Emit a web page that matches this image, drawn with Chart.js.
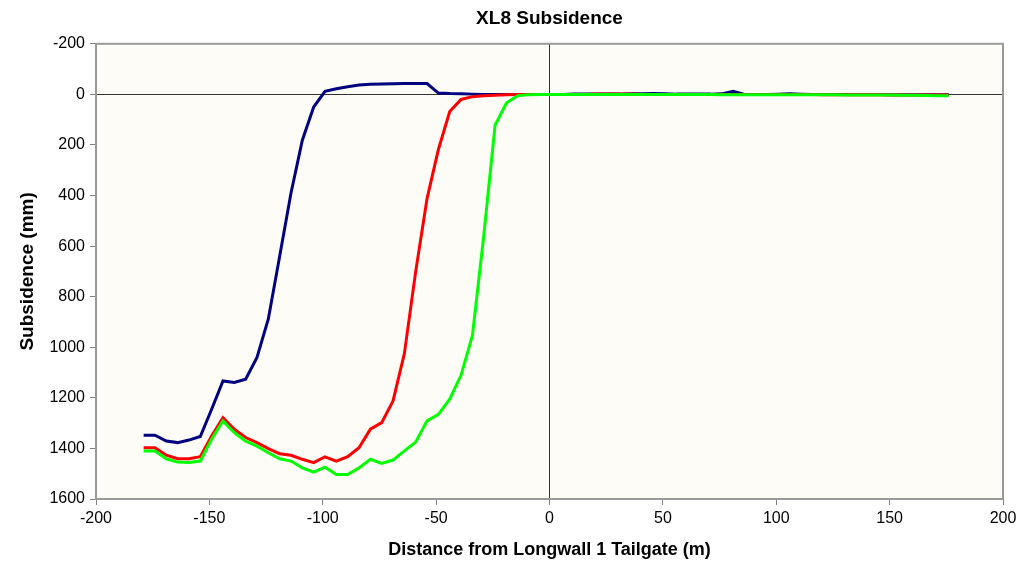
<!DOCTYPE html>
<html lang="en">
<head>
    <meta charset="UTF-8">
    <title>XL8 Subsidence</title>
    <script src="https://cdn.jsdelivr.net/npm/chart.js"></script>
    <style>
        body {
            margin: 0;
            padding: 0;
            background-color: #fff;
        }

        .chart-box {
            width: 1021px;
            height: 561px;
        }
    </style>
</head>
<body>
    <div class="chart-box">
        <canvas id="subsidenceChart" width="1021" height="561"></canvas>
    </div>

    <script>
        // Distance from Longwall 1 Tailgate (m)
        const distances = [-179, -174, -169, -164, -159, -154, -149, -144, -139, -134,
            -129, -124, -119, -114, -109, -104, -99, -94, -89, -84,
            -79, -74, -69, -64, -59, -54, -49, -44, -39, -34,
            -29, -24, -19, -14, -9, -4, 1, 6, 11, 16,
            21, 26, 31, 36, 41, 46, 51, 56, 61, 66,
            71, 76, 81, 86, 91, 96, 101, 106, 111, 116,
            121, 126, 131, 136, 141, 146, 151, 156, 161, 166,
            171, 176];

        // Subsidence (mm), three survey lines
        const navySeries = [1348, 1348, 1371, 1377, 1367, 1353, 1245, 1133, 1139, 1126,
            1040, 888, 640, 390, 181, 50, -12, -22, -30, -37,
            -40, -41, -42, -43, -43, -43, -5, -3, -2, -1,
            0, 0, 0, 0, 0, 0, 0, 0, -1, -1,
            -1, -1, -1, -2, -2, -3, -2, -1, -1, -1,
            -1, -2, -12, 0, 0, 0, -1, -2, -1, 0,
            0, 0, 0, 0, 0, 0, 1, 1, 1, 1,
            1, 1];

        const redSeries = [1397, 1397, 1427, 1441, 1441, 1433, 1351, 1278, 1324, 1357,
            1377, 1401, 1421, 1427, 1443, 1456, 1433, 1450, 1433, 1397,
            1324, 1298, 1212, 1025, 700, 412, 218, 68, 20, 9,
            5, 3, 1, 0, 0, 0, 0, 0, 0, 0,
            -1, -1, -1, -1, 0, 0, 0, 0, 0, 0,
            0, 0, 0, 0, 0, 0, 0, 0, 0, 0,
            1, 1, 1, 1, 1, 1, 2, 2, 2, 2,
            2, 2];

        const greenSeries = [1410, 1410, 1441, 1454, 1456, 1450, 1364, 1291, 1338, 1371,
            1391, 1417, 1441, 1450, 1477, 1494, 1474, 1503, 1503, 1477,
            1443, 1459, 1446, 1410, 1375, 1291, 1265, 1205, 1110, 954,
            560, 122, 34, 5, 1, 0, 0, 0, 0, 0,
            0, 0, 0, 0, 0, 0, 0, 0, 0, 0,
            0, 1, 1, 1, 1, 1, 1, 1, 1, 1,
            1, 1, 2, 2, 2, 2, 2, 3, 3, 4,
            5, 5];

        const xTicks = [-200, -150, -100, -50, 0, 50, 100, 150, 200];
        const yTicks = [-200, 0, 200, 400, 600, 800, 1000, 1200, 1400, 1600];

        const toPoints = values => values.map((v, i) => ({ x: distances[i], y: v }));

        // plot area fill and frame
        const plotFrame = {
            id: 'plotFrame',
            beforeDraw(chart) {
                const { ctx, chartArea: a } = chart;
                ctx.save();
                ctx.fillStyle = '#fdfcf6';
                ctx.fillRect(a.left, a.top, a.right - a.left, a.bottom - a.top);
                ctx.restore();
            },
            afterDraw(chart) {
                const { ctx, chartArea: a } = chart;
                ctx.save();
                ctx.strokeStyle = '#9a9a9a';
                ctx.lineWidth = 2;
                ctx.strokeRect(a.left, a.top, a.right - a.left, a.bottom - a.top);
                ctx.restore();
            }
        };

        const zeroLine = c => c.tick && c.tick.value === 0 ? '#333333' : 'rgba(0,0,0,0)';
        const font = 'Liberation Sans, Arial, sans-serif';

        new Chart(document.getElementById('subsidenceChart'), {
            type: 'line',
            data: {
                datasets: [
                    { label: 'Line A', data: toPoints(navySeries), borderColor: '#000080', order: 3 },
                    { label: 'Line B', data: toPoints(redSeries), borderColor: '#ff0000', order: 2 },
                    { label: 'Line C', data: toPoints(greenSeries), borderColor: '#00ff00', order: 1 }
                ]
            },
            options: {
                responsive: false,
                animation: false,
                layout: { padding: { right: 18, top: 0 } },
                elements: {
                    line: { borderWidth: 3, tension: 0 },
                    point: { radius: 0 }
                },
                plugins: {
                    legend: { display: false },
                    tooltip: { enabled: false },
                    title: {
                        display: true,
                        text: 'XL8 Subsidence',
                        fullSize: false,
                        color: '#000',
                        font: { family: font, size: 19, weight: 'bold' },
                        padding: { top: 7, bottom: 14 }
                    }
                },
                scales: {
                    x: {
                        type: 'linear',
                        min: -200,
                        max: 200,
                        afterBuildTicks: s => { s.ticks = xTicks.map(v => ({ value: v })); },
                        afterFit: s => { s.height = 62; },
                        ticks: {
                            color: '#000',
                            padding: 4,
                            font: { family: font, size: 16 },
                            callback: v => String(v)
                        },
                        grid: { color: zeroLine, tickColor: '#808080', tickLength: 6, lineWidth: 1 },
                        border: { color: '#9a9a9a', width: 2 },
                        title: {
                            display: true,
                            text: 'Distance from Longwall 1 Tailgate (m)',
                            color: '#000',
                            font: { family: font, size: 18, weight: 'bold' },
                            padding: { top: 2, bottom: 0 }
                        }
                    },
                    y: {
                        type: 'linear',
                        reverse: true,
                        min: -200,
                        max: 1600,
                        afterBuildTicks: s => { s.ticks = yTicks.map(v => ({ value: v })); },
                        afterFit: s => { s.width = 96; },
                        ticks: {
                            color: '#000',
                            padding: 5,
                            font: { family: font, size: 16 },
                            callback: v => String(v)
                        },
                        grid: { color: zeroLine, tickColor: '#808080', tickLength: 6, lineWidth: 1 },
                        border: { color: '#9a9a9a', width: 2 },
                        title: {
                            display: true,
                            text: 'Subsidence (mm)',
                            color: '#000',
                            font: { family: font, size: 19, weight: 'bold' },
                            padding: { top: 16, bottom: 0 }
                        }
                    }
                }
            },
            plugins: [plotFrame]
        });
    </script>
</body>
</html>
